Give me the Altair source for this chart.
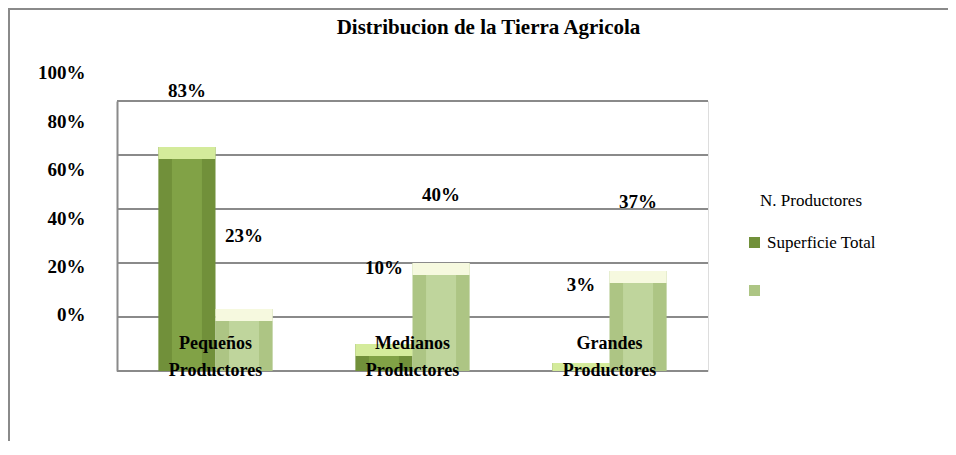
import altair as alt
import pandas as pd

# ---- data ----
categories = ["Pequeños Productores", "Medianos Productores", "Grandes Productores"]
series = ["Superficie Total", ""]
dark_values = [83, 10, 3]      # first series (dark green)
light_values = [23, 40, 37]    # second series (light green)
tick_values = [0, 20, 40, 60, 80, 100]

rows = []
for c, d, l in zip(categories, dark_values, light_values):
    rows.append({"category": c, "series": series[0], "value": d})
    rows.append({"category": c, "series": series[1], "value": l})
df = pd.DataFrame(rows)
ticks_df = pd.DataFrame({"tick": tick_values})

SERIF = "Liberation Serif"
DARK = "#71903A"
LIGHT = "#ADC584"
DARK_IN = "#81A246"
LIGHT_IN = "#BFD59C"
DARK_CAP = "#D4EB9B"
LIGHT_CAP = "#F6F9DF"
GRID = "#8A8A8A"

x_enc = alt.X(
    "category:N",
    sort=categories,
    title=None,
    scale=alt.Scale(paddingInner=0.42, paddingOuter=0.21),
    axis=alt.Axis(
        labelExpr="split(datum.label, ' ')",
        labelAngle=0,
        labelFont=SERIF,
        labelFontSize=18,
        labelFontWeight="bold",
        labelColor="black",
        labelLineHeight=27,
        labelPadding=-37,
        domain=False,
        ticks=False,
        grid=False,
        zindex=2,
    ),
)
xoff = alt.XOffset("series:N", sort=series)
y_bar = alt.Y("value:Q", scale=alt.Scale(domain=[0, 100]), axis=None)

base = alt.Chart(df)

# outer chart border (decoration)
border = base.mark_rect(fill=None, stroke=GRID, strokeWidth=2).encode(
    x=alt.value(-108), x2=alt.value(1200), y=alt.value(-92), y2=alt.value(800)
)

gridlines = alt.Chart(ticks_df).mark_rule(color=GRID, strokeWidth=2).encode(
    y=alt.Y("tick:Q", scale=alt.Scale(domain=[0, 100]), axis=None)
)

bars = base.mark_bar().encode(
    x=x_enc,
    xOffset=xoff,
    y=y_bar,
    color=alt.Color(
        "series:N",
        sort=series,
        scale=alt.Scale(domain=series, range=[DARK, LIGHT]),
        legend=alt.Legend(
            title="N. Productores",
            orient="none",
            legendX=629,
            legendY=92,
            titleFont=SERIF,
            titleFontSize=17,
            titleFontWeight="normal",
            titleColor="black",
            titleAnchor="middle",
            titlePadding=24,
            labelFont=SERIF,
            labelFontSize=17,
            labelColor="black",
            symbolType="square",
            symbolSize=121,
            symbolStrokeWidth=0,
            rowPadding=30,
        ),
    ),
)

inner = base.mark_bar(width=30, yOffset=12, clip=True).encode(
    x=x_enc,
    xOffset=xoff,
    y=y_bar,
    y2=alt.datum(0),
    color=alt.condition(
        alt.datum.series == series[0], alt.value(DARK_IN), alt.value(LIGHT_IN)
    ),
)

caps = base.mark_bar(y2Offset=12, clip=True).encode(
    x=x_enc,
    xOffset=xoff,
    y=y_bar,
    y2=alt.Y2("value:Q"),
    color=alt.condition(
        alt.datum.series == series[0], alt.value(DARK_CAP), alt.value(LIGHT_CAP)
    ),
)

labels = base.transform_calculate(label="datum.value + '%'").mark_text(
    font=SERIF, fontSize=19, fontWeight="bold", color="black", baseline="middle", dy=-67
).encode(
    x=x_enc,
    xOffset=xoff,
    y=alt.Y(
        "value:Q",
        scale=alt.Scale(domain=[-5, 106.6]),
        title=None,
        axis=alt.Axis(
            orient="left",
            values=tick_values,
            labelExpr="datum.value + '%'",
            labelFont=SERIF,
            labelFontSize=19,
            labelFontWeight="bold",
            labelColor="black",
            labelOffset=-44,
            labelPadding=32,
            labelBaseline="middle",
            ticks=False,
            grid=False,
            domain=True,
            domainColor=GRID,
            domainWidth=2,
        ),
    ),
    text="label:N",
)

chart = (
    alt.layer(border, gridlines, bars, inner, caps, labels)
    .resolve_scale(y="independent")
    .properties(
        width=591,
        height=270,
        title=alt.TitleParams(
            "Distribucion de la Tierra Agricola",
            font=SERIF,
            fontSize=21,
            fontWeight="bold",
            color="black",
            anchor="middle",
            dx=76,
            offset=-30,
        ),
        autosize=alt.AutoSizeParams(type="none"),
        padding={"left": 109, "top": 93, "right": 240, "bottom": 70},
    )
    .configure_view(stroke="transparent", strokeWidth=0)
    .configure(background="white")
)

chart.save("out.html", embed_options={"renderer": "svg", "actions": False})
